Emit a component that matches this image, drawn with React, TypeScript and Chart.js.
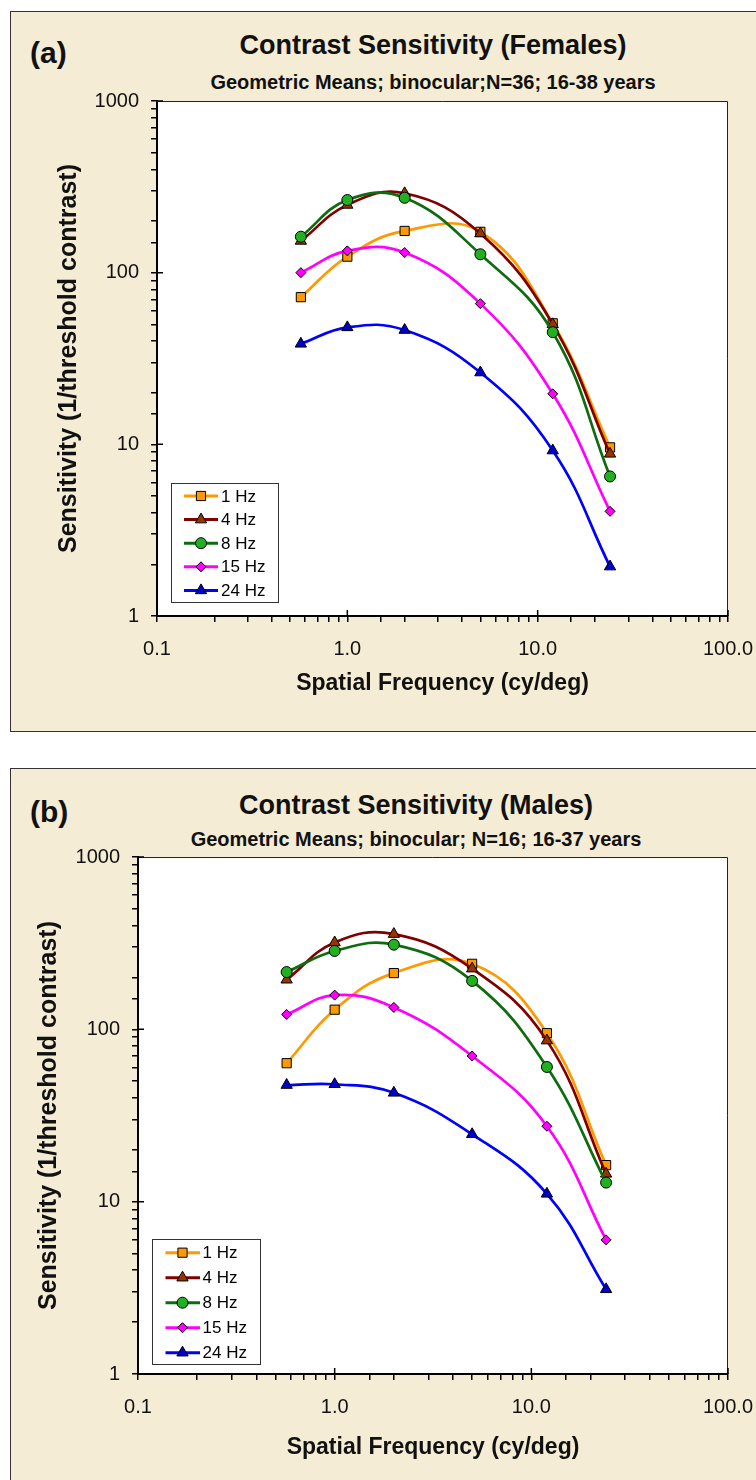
import React, { useEffect, useRef } from 'react';
import { Chart, registerables } from 'chart.js';
import { drawPoint } from 'chart.js/helpers';

Chart.register(...registerables);

const FONT = '"Liberation Sans", Arial, Helvetica, sans-serif';

// ---- data ----
const spatialFreq = [0.57, 1, 2, 5, 12, 24];
const seriesNames = ['1 Hz', '4 Hz', '8 Hz', '15 Hz', '24 Hz'];

const femalesHz1 = [72, 124, 175, 173, 50.7, 9.6];
const femalesHz4 = [153, 248, 290, 169, 50, 8.8];
const femalesHz8 = [162, 265, 273, 128, 45, 6.5];
const femalesHz15 = [100, 134, 131, 66, 19.7, 4.07];
const femalesHz24 = [38.5, 48, 46.3, 26.2, 9.2, 1.94];

const malesHz1 = [63.6, 130, 212, 240, 95, 16.3];
const malesHz4 = [194, 319, 357, 225, 86, 14.5];
const malesHz8 = [215, 285, 310, 191, 60.5, 12.9];
const malesHz15 = [122, 158, 134, 70, 27.4, 6.0];
const malesHz24 = [47.5, 48, 42.8, 24.6, 11.1, 3.1];

const xTickValues = [0.1, 1, 10, 100];
const xTickLabels = ['0.1', '1.0', '10.0', '100.0'];
const yTickValues = [1, 10, 100, 1000];
const yTickLabels = ['1', '10', '100', '1000'];

// ---- styles ----
const lineColors = ['#FF9900', '#800000', '#0F6B0F', '#FF00FF', '#0000FF'];
const markerFills = ['#FF9900', '#993300', '#22B022', '#FF00FF', '#0000CC'];
const markerStyles = ['rect', 'triangle', 'circle', 'rectRot', 'triangle'];
const markerRadius = [6.5, 6.5, 5.5, 5, 6.5];

type LegendSpec = {
  left: number; bottom: number; w: number; h: number; first: number; gap: number;
  lineX0: number; lineX1: number; markX: number; textX: number;
};

type PanelSpec = {
  letter: string; title: string; subtitle: string; series: number[][];
  panelTop: number; panelHeight: number;
  letterY: number; titleX: number; titleY: number; subtitleY: number;
  canvasTop: number; canvasHeight: number;
  padTop: number; padBottom: number; yWidth: number; xHeight: number;
  yTitlePad: number; xTitlePad: number; legend: LegendSpec;
};

const femalePanel: PanelSpec = {
  letter: '(a)',
  title: 'Contrast Sensitivity (Females)',
  subtitle: 'Geometric Means; binocular;N=36; 16-38 years',
  series: [femalesHz1, femalesHz4, femalesHz8, femalesHz15, femalesHz24],
  panelTop: 11, panelHeight: 721,
  letterY: 53, titleX: 433, titleY: 45, subtitleY: 82,
  canvasTop: 60, canvasHeight: 680,
  padTop: 41, padBottom: 34, yWidth: 157, xHeight: 90,
  yTitlePad: 54, xTitlePad: 9,
  legend: { left: 14, bottom: 14, w: 107, h: 119, first: 13, gap: 23.6, lineX0: 13, lineX1: 47, markX: 30, textX: 50 },
};

const malePanel: PanelSpec = {
  letter: '(b)',
  title: 'Contrast Sensitivity (Males)',
  subtitle: 'Geometric Means; binocular; N=16; 16-37 years',
  series: [malesHz1, malesHz4, malesHz8, malesHz15, malesHz24],
  panelTop: 768, panelHeight: 760,
  letterY: 812, titleX: 416, titleY: 805, subtitleY: 839,
  canvasTop: 820, canvasHeight: 670,
  padTop: 37, padBottom: 16, yWidth: 138, xHeight: 100,
  yTitlePad: 34, xTitlePad: 13,
  legend: { left: 14, bottom: 10, w: 108, h: 125, first: 13.7, gap: 25, lineX0: 13.5, lineX1: 48, markX: 30.5, textX: 50.5 },
};

const labelFor = (vals: number[], labels: string[]) => (value: number | string) => {
  const v = Number(value);
  const i = vals.findIndex((t) => Math.abs(Math.log10(t) - Math.log10(v)) < 1e-6);
  return i >= 0 ? labels[i] : '';
};

const framePlugin = {
  id: 'frame',
  beforeDraw(chart: any) {
    const { ctx, chartArea: a } = chart;
    ctx.save();
    ctx.fillStyle = '#ffffff';
    ctx.fillRect(a.left, a.top, a.right - a.left, a.bottom - a.top);
    ctx.restore();
  },
  afterDraw(chart: any) {
    const { ctx, chartArea: a } = chart;
    const xs = chart.scales.x;
    const ys = chart.scales.y;
    ctx.save();
    ctx.strokeStyle = '#222';
    ctx.lineWidth = 1;
    ctx.beginPath();
    ctx.moveTo(a.left, a.top + 0.5);
    ctx.lineTo(a.right - 0.5, a.top + 0.5);
    ctx.lineTo(a.right - 0.5, a.bottom);
    ctx.stroke();
    ctx.strokeStyle = '#000';
    ctx.lineWidth = 1.5;
    ctx.beginPath();
    xTickValues.forEach((v) => {
      const px = xs.getPixelForValue(v);
      ctx.moveTo(px, a.bottom);
      ctx.lineTo(px, a.bottom - 6);
    });
    yTickValues.forEach((v) => {
      const py = ys.getPixelForValue(v);
      ctx.moveTo(a.left, py);
      ctx.lineTo(a.left + 6, py);
    });
    ctx.stroke();
    ctx.restore();
  },
};

const makeLegendPlugin = (L: LegendSpec) => ({
  id: 'boxLegend',
  afterDraw(chart: any) {
    const { ctx, chartArea: a } = chart;
    const x0 = Math.round(a.left + L.left);
    const y0 = Math.round(a.bottom - L.bottom - L.h);
    ctx.save();
    ctx.fillStyle = '#ffffff';
    ctx.fillRect(x0, y0, L.w, L.h);
    ctx.strokeStyle = '#333';
    ctx.lineWidth = 1;
    ctx.strokeRect(x0 + 0.5, y0 + 0.5, L.w, L.h);
    chart.data.datasets.forEach((ds: any, i: number) => {
      const cy = y0 + L.first + i * L.gap;
      ctx.strokeStyle = ds.borderColor;
      ctx.lineWidth = 3;
      ctx.beginPath();
      ctx.moveTo(x0 + L.lineX0, cy);
      ctx.lineTo(x0 + L.lineX1, cy);
      ctx.stroke();
      ctx.fillStyle = ds.pointBackgroundColor;
      ctx.strokeStyle = '#000';
      ctx.lineWidth = 1;
      drawPoint(ctx, { pointStyle: ds.pointStyle, radius: ds.pointRadius, rotation: 0, borderWidth: 1 } as any, x0 + L.markX, cy);
      ctx.fillStyle = '#000';
      ctx.font = `17px ${FONT}`;
      ctx.textBaseline = 'middle';
      ctx.textAlign = 'left';
      ctx.fillText(ds.label, x0 + L.textX, cy + 1);
    });
    ctx.restore();
  },
});

function SensitivityChart({ spec }: { spec: PanelSpec }) {
  const ref = useRef<HTMLCanvasElement | null>(null);
  useEffect(() => {
    if (!ref.current) return;
    const datasets = spec.series.map((vals, i) => ({
      label: seriesNames[i],
      data: spatialFreq.map((x, j) => ({ x, y: vals[j] })),
      borderColor: lineColors[i],
      backgroundColor: markerFills[i],
      borderWidth: 2.7,
      pointStyle: markerStyles[i],
      pointRadius: markerRadius[i],
      pointBackgroundColor: markerFills[i],
      pointBorderColor: '#000',
      pointBorderWidth: 1,
      tension: 0.42,
      fill: false,
      order: 10 - i,
    }));
    const chart = new Chart(ref.current, {
      type: 'line',
      data: { datasets } as any,
      options: {
        animation: false,
        responsive: false,
        maintainAspectRatio: false,
        layout: { padding: { top: spec.padTop, bottom: spec.padBottom, left: 0, right: 28 } },
        plugins: { legend: { display: false }, tooltip: { enabled: false }, title: { display: false } },
        scales: {
          x: {
            type: 'logarithmic',
            min: 0.1,
            max: 100,
            afterFit: (s: any) => {
              s.height = spec.xHeight;
              s.paddingLeft = 0;
              s.paddingRight = 0;
            },
            border: { display: true, color: '#000', width: 2 },
            grid: { drawOnChartArea: false, drawTicks: true, tickLength: 6, color: '#000', lineWidth: 1.5 },
            ticks: {
              autoSkip: false, maxRotation: 0, padding: 15, color: '#111',
              font: { family: FONT, size: 20 },
              callback: labelFor(xTickValues, xTickLabels) as any,
            },
            title: {
              display: true, text: 'Spatial Frequency (cy/deg)', color: '#111',
              font: { family: FONT, size: 23, weight: 'bold', lineHeight: 1.2 },
              padding: { top: 0, bottom: spec.xTitlePad },
            },
          },
          y: {
            type: 'logarithmic',
            min: 1,
            max: 1000,
            afterFit: (s: any) => {
              s.width = spec.yWidth;
              s.paddingTop = 0;
              s.paddingBottom = 0;
            },
            border: { display: true, color: '#000', width: 2 },
            grid: { drawOnChartArea: false, drawTicks: true, tickLength: 6, color: '#000', lineWidth: 1.5 },
            ticks: {
              autoSkip: false, padding: 12, color: '#111',
              font: { family: FONT, size: 20 },
              callback: labelFor(yTickValues, yTickLabels) as any,
            },
            title: {
              display: true, text: 'Sensitivity (1/threshold contrast)', color: '#111',
              font: { family: FONT, size: 25, weight: 'bold', lineHeight: 1.2 },
              padding: { top: spec.yTitlePad, bottom: 0 },
            },
          },
        },
      } as any,
      plugins: [framePlugin, makeLegendPlugin(spec.legend)],
    });
    return () => chart.destroy();
  }, [spec]);

  return (
    <canvas
      ref={ref}
      width={756}
      height={spec.canvasHeight}
      style={{ position: 'absolute', left: 0, top: spec.canvasTop, width: 756, height: spec.canvasHeight }}
    />
  );
}

function Centered({ x, y, size, text }: { x: number; y: number; size: number; text: string }) {
  return (
    <div
      style={{
        position: 'absolute', left: x - 350, width: 700, top: y - size * 0.6, height: size * 1.2,
        lineHeight: `${size * 1.2}px`, fontSize: size, fontWeight: 'bold', textAlign: 'center',
        color: '#111', whiteSpace: 'nowrap',
      }}
    >
      {text}
    </div>
  );
}

function Panel({ spec }: { spec: PanelSpec }) {
  return (
    <>
      <div
        style={{
          position: 'absolute', left: 10, top: spec.panelTop, width: 840, height: spec.panelHeight,
          background: '#F4ECD4', border: '1.5px solid #333', boxSizing: 'border-box',
        }}
      />
      <div
        style={{
          position: 'absolute', left: 30, top: spec.letterY - 18, height: 36, lineHeight: '36px',
          fontSize: 30, fontWeight: 'bold', color: '#111',
        }}
      >
        {spec.letter}
      </div>
      <Centered x={spec.titleX} y={spec.titleY} size={27} text={spec.title} />
      <Centered x={spec.titleX} y={spec.subtitleY} size={20} text={spec.subtitle} />
      <SensitivityChart spec={spec} />
    </>
  );
}

export default function App() {
  return (
    <div
      style={{
        position: 'absolute', left: 0, top: 0, width: 756, height: 1480, overflow: 'hidden',
        background: '#ffffff', fontFamily: FONT,
      }}
    >
      <Panel spec={femalePanel} />
      <Panel spec={malePanel} />
    </div>
  );
}
